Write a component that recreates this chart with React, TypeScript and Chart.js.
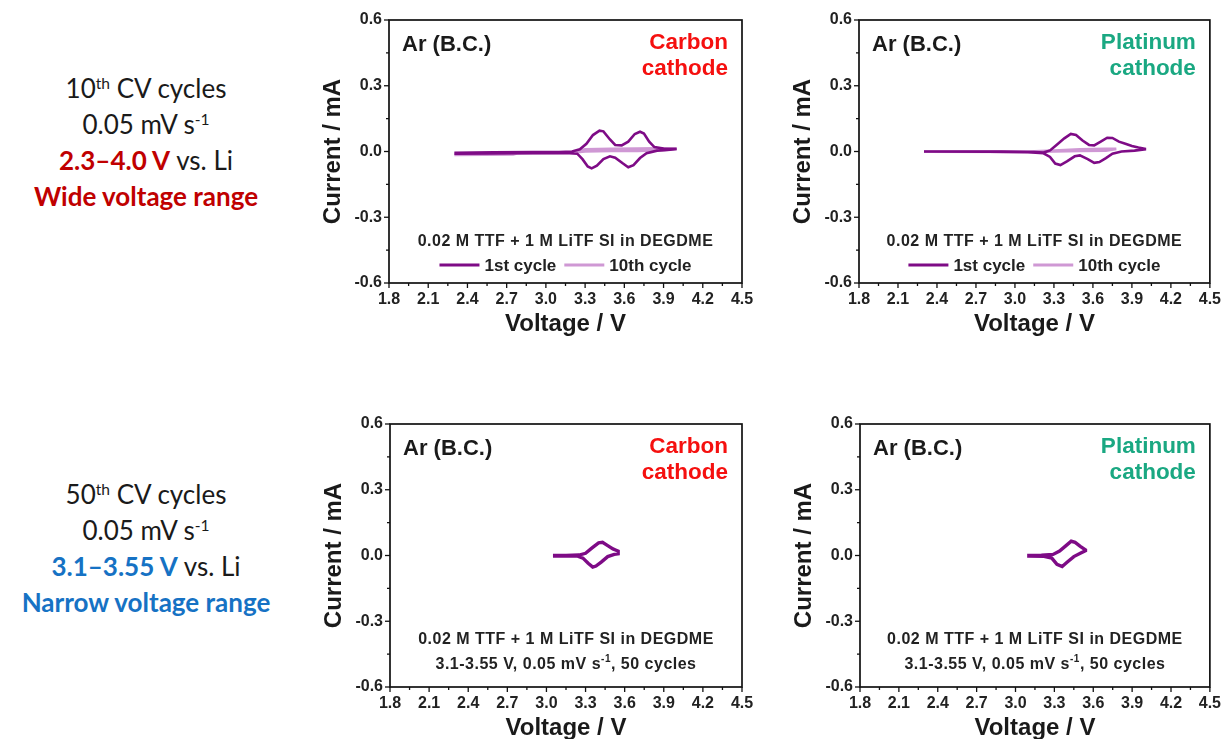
import React, { useEffect, useRef } from "react";
import { Chart, registerables } from "chart.js";

Chart.register(...registerables);

// ---------- data ----------
const X_MIN = 1.8;
const X_MAX = 4.5;
const Y_MIN = -0.6;
const Y_MAX = 0.6;
const TICK_STEP = 0.15;

// Carbon cathode, 2.3-4.0 V, 1st cycle
const carbon1stV = [2.3, 2.6, 2.9, 3.1, 3.2, 3.26, 3.31, 3.36, 3.41, 3.44, 3.49, 3.53, 3.58, 3.63, 3.68, 3.72, 3.75, 3.79, 3.83, 3.9, 4.0,
  4.0, 3.95, 3.85, 3.77, 3.72, 3.67, 3.63, 3.59, 3.53, 3.49, 3.44, 3.39, 3.35, 3.32, 3.28, 3.24, 3.15, 2.9, 2.6, 2.3];
const carbon1stI = [-0.006, -0.004, -0.003, -0.002, 0.0, 0.01, 0.035, 0.075, 0.095, 0.092, 0.055, 0.03, 0.028, 0.045, 0.08, 0.09, 0.082, 0.045, 0.02, 0.014, 0.012,
  0.012, 0.008, 0.004, -0.008, -0.03, -0.062, -0.072, -0.055, -0.028, -0.022, -0.035, -0.065, -0.077, -0.068, -0.035, -0.01, -0.007, -0.008, -0.009, -0.01];
// Carbon cathode, 10th cycle
const carbon10thV = [2.3, 2.75, 2.8, 3.2, 3.3, 3.5, 3.7, 3.85, 3.95, 4.0, 3.9, 3.7, 3.5, 3.3, 3.2, 2.8, 2.3];
const carbon10thI = [-0.016, -0.014, -0.006, -0.004, 0.01, 0.012, 0.013, 0.015, 0.012, 0.012, 0.006, 0.003, 0.002, 0.0, -0.005, -0.008, -0.01];

// Platinum cathode, 1st cycle
const platinum1stV = [2.3, 2.6, 2.9, 3.15, 3.22, 3.27, 3.32, 3.38, 3.43, 3.47, 3.52, 3.57, 3.61, 3.66, 3.71, 3.75, 3.8, 3.85, 3.9, 3.95, 4.0,
  4.0, 3.92, 3.82, 3.75, 3.7, 3.65, 3.61, 3.56, 3.5, 3.46, 3.4, 3.35, 3.31, 3.27, 3.22, 3.1, 2.8, 2.3];
const platinum1stI = [0.0, 0.0, 0.0, -0.002, -0.005, 0.005, 0.03, 0.06, 0.08, 0.075, 0.05, 0.03, 0.028, 0.045, 0.063, 0.062, 0.045, 0.035, 0.025, 0.018, 0.012,
  0.01, 0.004, 0.0, -0.01, -0.03, -0.048, -0.052, -0.035, -0.018, -0.022, -0.045, -0.062, -0.055, -0.025, -0.008, -0.003, -0.001, 0.0];
// Platinum cathode, 10th cycle
const platinum10thV = [2.3, 3.1, 3.3, 3.5, 3.7, 3.78, 3.7, 3.5, 3.3, 3.1, 2.3];
const platinum10thI = [0.0, 0.0, 0.004, 0.01, 0.012, 0.012, 0.004, 0.002, 0.0, -0.002, -0.001];

// Carbon cathode, 3.1-3.55 V, 50 cycles
const carbon50V = [3.05, 3.15, 3.25, 3.3, 3.35, 3.4, 3.43, 3.47, 3.51, 3.53, 3.55, 3.55, 3.52, 3.47, 3.42, 3.38, 3.355, 3.32, 3.28, 3.24, 3.15, 3.05];
const carbon50I = [0.0, 0.0, 0.002, 0.01, 0.035, 0.058, 0.06, 0.045, 0.03, 0.025, 0.02, 0.008, 0.005, -0.005, -0.03, -0.048, -0.053, -0.035, -0.012, -0.003, -0.002, -0.002];

// Platinum cathode, 3.1-3.55 V, 50 cycles
const platinum50V = [3.09, 3.2, 3.29, 3.34, 3.39, 3.43, 3.46, 3.5, 3.54, 3.54, 3.5, 3.45, 3.4, 3.36, 3.32, 3.28, 3.22, 3.09];
const platinum50I = [0.0, 0.001, 0.005, 0.02, 0.045, 0.065, 0.06, 0.042, 0.026, 0.022, 0.01, -0.005, -0.03, -0.05, -0.04, -0.012, -0.004, -0.002];

const LABEL_1ST = "1st cycle";
const LABEL_10TH = "10th cycle";
const LABEL_50 = "50 cycles";

// ---------- styling ----------
const FONT = '"Liberation Sans", Arial, sans-serif';
const PURPLE = "#7e0b86";
const LIGHT_PURPLE = "#cf98d4";
const RED = "#f5100f";
const GREEN = "#1aa882";

type Part = { t: string; sup?: boolean };
type Series = { label: string; v: number[]; i: number[]; color: string; width: number; legend: boolean };
type PanelCfg = {
  left: number;
  top: number;
  width: number;
  padRight: number;
  cathode: string[];
  cathodeColor: string;
  notes: Part[][];
  legend: boolean;
  series: Series[];
};

const pts = (v: number[], i: number[]) => v.map((x, k) => ({ x, y: i[k] }));

const isMajor = (value: number) => Math.round(value / TICK_STEP) % 2 === 0;

function drawRich(ctx: CanvasRenderingContext2D, parts: Part[], cx: number, cy: number, size: number, color: string) {
  const main = `bold ${size}px ${FONT}`;
  const sup = `bold ${Math.round(size * 0.62)}px ${FONT}`;
  (ctx as any).letterSpacing = "0.5px";
  let total = 0;
  parts.forEach((p) => {
    ctx.font = p.sup ? sup : main;
    total += ctx.measureText(p.t).width;
  });
  let x = cx - total / 2;
  ctx.fillStyle = color;
  ctx.textAlign = "left";
  ctx.textBaseline = "middle";
  parts.forEach((p) => {
    ctx.font = p.sup ? sup : main;
    ctx.fillText(p.t, x, p.sup ? cy - size * 0.38 : cy);
    x += ctx.measureText(p.t).width;
  });
  (ctx as any).letterSpacing = "0px";
}

const decorPlugin = {
  id: "decor",
  afterDraw(chart: any) {
    const cfg = chart.options.plugins.decor as PanelCfg;
    const { ctx } = chart;
    const { left, right, top, bottom } = chart.chartArea;
    ctx.save();
    // frame
    ctx.strokeStyle = "#111";
    ctx.lineWidth = 1.7;
    ctx.strokeRect(left, top, right - left, bottom - top);
    // ticks (outward, major / minor)
    ctx.lineWidth = 1.3;
    const xs = chart.scales.x;
    xs.ticks.forEach((t: any) => {
      const px = xs.getPixelForValue(t.value);
      const len = isMajor(t.value) ? 5 : 3;
      ctx.beginPath();
      ctx.moveTo(px, bottom);
      ctx.lineTo(px, bottom + len);
      ctx.stroke();
    });
    const ys = chart.scales.y;
    ys.ticks.forEach((t: any) => {
      const py = ys.getPixelForValue(t.value);
      const len = isMajor(t.value) ? 5 : 3;
      ctx.beginPath();
      ctx.moveTo(left, py);
      ctx.lineTo(left - len, py);
      ctx.stroke();
    });
    // "Ar (B.C.)"
    ctx.fillStyle = "#1a1a1a";
    ctx.font = `bold 22px ${FONT}`;
    ctx.textAlign = "left";
    ctx.textBaseline = "middle";
    ctx.fillText("Ar (B.C.)", left + 13, top + 25);
    // cathode label
    ctx.fillStyle = cfg.cathodeColor;
    ctx.font = `bold 22.5px ${FONT}`;
    ctx.textAlign = "right";
    cfg.cathode.forEach((line, k) => ctx.fillText(line, right - 14, top + 23 + k * 26));
    // notes
    const cx = (left + right) / 2;
    const firstNoteY = cfg.legend ? bottom - 41 : bottom - 47;
    cfg.notes.forEach((row, k) => drawRich(ctx, row, cx, firstNoteY + k * 25, 16, "#222"));
    // legend
    if (cfg.legend) {
      const items = chart.data.datasets.filter((d: any) => d.showInLegend);
      ctx.font = `bold 17px ${FONT}`;
      const lineLen = 40;
      const gapText = 5;
      const gapItem = 8;
      let total = 0;
      items.forEach((d: any, k: number) => {
        total += lineLen + gapText + ctx.measureText(d.label).width + (k < items.length - 1 ? gapItem : 0);
      });
      let x = cx - total / 2;
      const y = bottom - 18;
      items.forEach((d: any) => {
        ctx.strokeStyle = d.borderColor;
        ctx.lineWidth = 2.8;
        ctx.beginPath();
        ctx.moveTo(x, y);
        ctx.lineTo(x + lineLen, y);
        ctx.stroke();
        x += lineLen + gapText;
        ctx.fillStyle = "#222";
        ctx.textAlign = "left";
        ctx.fillText(d.label, x, y + 1);
        x += ctx.measureText(d.label).width + gapItem;
      });
    }
    ctx.restore();
  },
};

const panels: PanelCfg[] = [
  {
    left: 300, top: 0, width: 460, padRight: 18,
    cathode: ["Carbon", "cathode"], cathodeColor: RED,
    notes: [[{ t: "0.02 M TTF + 1 M LiTF SI in DEGDME" }]],
    legend: true,
    series: [
      { label: LABEL_1ST, v: carbon1stV, i: carbon1stI, color: PURPLE, width: 2.6, legend: true },
      { label: LABEL_10TH, v: carbon10thV, i: carbon10thI, color: LIGHT_PURPLE, width: 2.6, legend: true },
    ],
  },
  {
    left: 770, top: 0, width: 453, padRight: 13,
    cathode: ["Platinum", "cathode"], cathodeColor: GREEN,
    notes: [[{ t: "0.02 M TTF + 1 M LiTF SI in DEGDME" }]],
    legend: true,
    series: [
      { label: LABEL_1ST, v: platinum1stV, i: platinum1stI, color: PURPLE, width: 2.6, legend: true },
      { label: LABEL_10TH, v: platinum10thV, i: platinum10thI, color: LIGHT_PURPLE, width: 2.6, legend: true },
    ],
  },
  {
    left: 301, top: 404, width: 460, padRight: 19,
    cathode: ["Carbon", "cathode"], cathodeColor: RED,
    notes: [
      [{ t: "0.02 M TTF + 1 M LiTF SI in DEGDME" }],
      [{ t: "3.1-3.55 V, 0.05 mV s" }, { t: "-1", sup: true }, { t: ", 50 cycles" }],
    ],
    legend: false,
    series: [{ label: LABEL_50, v: carbon50V, i: carbon50I, color: PURPLE, width: 3.4, legend: false }],
  },
  {
    left: 771, top: 404, width: 452, padRight: 13,
    cathode: ["Platinum", "cathode"], cathodeColor: GREEN,
    notes: [
      [{ t: "0.02 M TTF + 1 M LiTF SI in DEGDME" }],
      [{ t: "3.1-3.55 V, 0.05 mV s" }, { t: "-1", sup: true }, { t: ", 50 cycles" }],
    ],
    legend: false,
    series: [{ label: LABEL_50, v: platinum50V, i: platinum50I, color: PURPLE, width: 3.4, legend: false }],
  },
];

const CANVAS_H = 340;

function Panel({ cfg }: { cfg: PanelCfg }) {
  const ref = useRef<HTMLCanvasElement | null>(null);
  useEffect(() => {
    if (!ref.current) return;
    const tickFont = { family: FONT, size: 16, weight: "bold" as const };
    const titleFont = { family: FONT, size: 24, weight: "bold" as const };
    const chart = new Chart(ref.current, {
      type: "scatter",
      data: {
        datasets: cfg.series.map((s) => ({
          label: s.label,
          data: pts(s.v, s.i),
          showLine: true,
          borderColor: s.color,
          backgroundColor: s.color,
          borderWidth: s.width,
          pointRadius: 0,
          showInLegend: s.legend,
        })) as any,
      },
      options: {
        responsive: false,
        animation: false,
        events: [],
        layout: { padding: { left: 19, top: 20, right: cfg.padRight, bottom: 1 } },
        scales: {
          x: {
            type: "linear",
            min: X_MIN,
            max: X_MAX,
            afterFit: (s: any) => { s.height = 56; },
            ticks: {
              stepSize: TICK_STEP,
              autoSkip: false,
              maxRotation: 0,
              padding: 2,
              color: "#222",
              font: tickFont,
              callback: (v: any) => (isMajor(Number(v)) ? Number(v).toFixed(1) : ""),
            },
            grid: { drawOnChartArea: false, drawTicks: true, tickLength: 5, color: "rgba(0,0,0,0)", tickColor: "rgba(0,0,0,0)" },
            border: { display: false },
            title: { display: true, text: "Voltage / V", color: "#1a1a1a", font: titleFont, padding: 0 },
          },
          y: {
            type: "linear",
            min: Y_MIN,
            max: Y_MAX,
            afterFit: (s: any) => { s.width = 70; },
            ticks: {
              stepSize: TICK_STEP,
              autoSkip: false,
              padding: 2,
              color: "#222",
              font: tickFont,
              callback: (v: any) => (isMajor(Number(v)) ? Number(v).toFixed(1) : ""),
            },
            grid: { drawOnChartArea: false, drawTicks: true, tickLength: 5, color: "rgba(0,0,0,0)", tickColor: "rgba(0,0,0,0)" },
            border: { display: false },
            title: { display: true, text: "Current / mA", color: "#1a1a1a", font: titleFont, padding: 0 },
          },
        },
        plugins: {
          legend: { display: false },
          tooltip: { enabled: false },
          decor: cfg,
        } as any,
      },
      plugins: [decorPlugin],
    });
    return () => chart.destroy();
  }, [cfg]);
  return (
    <canvas
      ref={ref}
      width={cfg.width}
      height={CANVAS_H}
      style={{ position: "absolute", left: cfg.left, top: cfg.top, width: cfg.width, height: CANVAS_H }}
    />
  );
}

const SIDE_FONT = 'Lato, "Open Sans", "Noto Sans", sans-serif';
const SIDE_RED = "#c00000";
const SIDE_BLUE = "#1672c4";

function SideBlock({ top, n, range, rangeColor, desc }: { top: number; n: string; range: string; rangeColor: string; desc: string }) {
  const line: React.CSSProperties = { height: 36, lineHeight: "36px", whiteSpace: "nowrap" };
  const sup: React.CSSProperties = { fontSize: "60%", verticalAlign: "0.6em", lineHeight: 0 };
  return (
    <div style={{ position: "absolute", left: 0, top, width: 292, textAlign: "center", fontFamily: SIDE_FONT, fontSize: 26, color: "#1a1a1a" }}>
      <div style={line}>{n}<span style={sup}>th</span> CV cycles</div>
      <div style={line}>0.05 mV s<span style={sup}>-1</span></div>
      <div style={line}><span style={{ color: rangeColor, fontWeight: 700 }}>{range}</span> vs. Li</div>
      <div style={{ ...line, color: rangeColor, fontWeight: 700 }}>{desc}</div>
    </div>
  );
}

export default function App() {
  return (
    <div style={{ position: "fixed", left: 0, top: 0, width: 1223, height: 739, overflow: "hidden", background: "#fff" }}>
      <SideBlock top={70} n="10" range="2.3–4.0 V" rangeColor={SIDE_RED} desc="Wide voltage range" />
      <SideBlock top={476} n="50" range="3.1–3.55 V" rangeColor={SIDE_BLUE} desc="Narrow voltage range" />
      {panels.map((p, k) => (
        <Panel key={k} cfg={p} />
      ))}
    </div>
  );
}
